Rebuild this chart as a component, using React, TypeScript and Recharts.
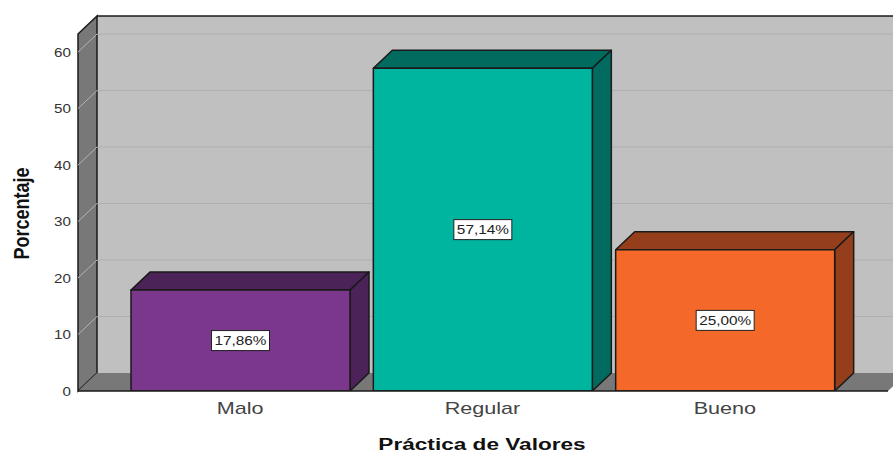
import { BarChart, Bar, Cell, XAxis, YAxis, LabelList, ReferenceArea, ReferenceLine } from "recharts";

const categories = ["Malo", "Regular", "Bueno"];
const percentages = [17.86, 57.14, 25.0];
const valueLabels = ["17,86%", "57,14%", "25,00%"];
const yTicks = [0, 10, 20, 30, 40, 50, 60];

const data = categories.map((name, i) => ({ name, value: percentages[i], label: valueLabels[i] }));

const frontColors = ["#7a378b", "#00b5a0", "#f4682a"];
const darkColors = ["#4b2359", "#006b5e", "#953e1b"];

const DX = 19;
const DY = 18;
const PAD_LEFT = 41;
const PAD_RIGHT = 42;
const EDGE = "#1a1a1a";
const FONT = "'Liberation Sans', Arial, sans-serif";

// box with top and side faces, the chart lib only gives us the front rect
function Box3D(props: any) {
  const { x, y, width, height, index } = props;
  const dark = darkColors[index];
  const r = x + width;
  const b = y + height;
  return (
    <g stroke={EDGE} strokeWidth={1.5} strokeLinejoin="round">
      <path d={`M${x},${y} L${x + DX},${y - DY} L${r + DX},${y - DY} L${r},${y} Z`} fill={dark} />
      <path d={`M${r},${y} L${r + DX},${y - DY} L${r + DX},${b - DY} L${r},${b} Z`} fill={dark} />
      <rect x={x} y={y} width={width} height={height} fill={frontColors[index]} />
    </g>
  );
}

// ReferenceArea hands us the band range, so add the axis padding back
function Room(props: any) {
  const { y, height } = props;
  const x = props.x - PAD_LEFT;
  const r = props.x + props.width + PAD_RIGHT;
  const b = y + height;
  return (
    <g>
      <rect x={x + DX} y={y - DY} width={r - x} height={height} fill="#c0c0c0" />
      <path d={`M${x},${y} L${x + DX},${y - DY} L${x + DX},${b - DY} L${x},${b} Z`} fill="#787878" stroke={EDGE} strokeWidth={1.5} />
      <path d={`M${x},${b} L${x + DX},${b - DY} L${r + DX},${b - DY} L${r},${b} Z`} fill="#787878" />
      <path d={`M${x + DX},${y - DY} L${r + DX},${y - DY}`} stroke={EDGE} strokeWidth={1.5} />
    </g>
  );
}

function GridLine(props: any) {
  const { x1, y1, x2, y2 } = props;
  return (
    <g fill="none">
      <path d={`M${x1},${y1} L${x1 + DX},${y1 - DY}`} stroke="#b4b4b4" strokeWidth={1} />
      <path d={`M${x1 + DX},${y1 - DY} L${x2 + DX},${y2 - DY}`} stroke="#afafaf" strokeWidth={1} />
    </g>
  );
}

function Stretched({ x, y, sx, children, ...rest }: any) {
  return (
    <text transform={`translate(${x},${y}) scale(${sx},1)`} fontFamily={FONT} {...rest}>
      {children}
    </text>
  );
}

function XTick({ x, y, payload }: any) {
  return (
    <Stretched x={x} y={y + 15} sx={1.27} textAnchor="middle" fontSize={17} fill="#444">
      {payload.value}
    </Stretched>
  );
}

function YTick({ x, y, payload }: any) {
  return (
    <Stretched x={x + 6} y={y + 4.5} sx={1.17} textAnchor="end" fontSize={13} fill="#333">
      {payload.value}
    </Stretched>
  );
}

function ValueBox(props: any) {
  const { x, y, width, height, value } = props;
  const cx = x + width / 2;
  const cy = y + height / 2;
  return (
    <g>
      <rect x={cx - 29} y={cy - 10} width={58} height={20} fill="#fff" stroke="#222" strokeWidth={1} />
      <Stretched x={cx} y={cy + 4.5} sx={1.18} textAnchor="middle" fontSize={13} fill="#222">
        {value}
      </Stretched>
    </g>
  );
}

function XTitle({ viewBox }: any) {
  return (
    <Stretched x={viewBox.x + viewBox.width / 2 - 1} y={450} sx={1.33} textAnchor="middle" fontSize={17} fontWeight={700} fill="#111">
      Práctica de Valores
    </Stretched>
  );
}

function YTitle({ viewBox }: any) {
  const cy = viewBox.y + viewBox.height / 2;
  return (
    <text transform={`translate(29,${cy + 1}) rotate(-90) scale(0.82,1)`} textAnchor="middle" fontFamily={FONT} fontSize={22} fontWeight={700} fill="#111">
      Porcentaje
    </text>
  );
}

export default function App() {
  return (
    <div style={{ position: "absolute", left: 0, top: 0, width: 893, height: 452, background: "#fff" }}>
      <BarChart width={893} height={452} data={data} margin={{ top: 34, right: 5, bottom: 0, left: 0 }} barSize={219}>
        <XAxis
          dataKey="name"
          height={61}
          padding={{ left: PAD_LEFT, right: PAD_RIGHT }}
          axisLine={{ stroke: EDGE, strokeWidth: 1.5 }}
          tickLine={false}
          tick={<XTick />}
          label={{ content: <XTitle /> }}
        />
        <YAxis
          width={78}
          domain={[0, 63.2]}
          ticks={yTicks}
          interval={0}
          allowDataOverflow
          axisLine={false}
          tickLine={false}
          tickMargin={7}
          tick={<YTick />}
          label={{ content: <YTitle /> }}
        />
        <ReferenceArea y1={0} y2={63.2} shape={<Room />} zIndex={100} />
        {yTicks.slice(1).map((t) => (
          <ReferenceLine key={t} y={t} shape={<GridLine />} zIndex={150} />
        ))}
        <Bar dataKey="value" shape={<Box3D />} isAnimationActive={false}>
          {data.map((d, i) => (
            <Cell key={d.name} fill={frontColors[i]} />
          ))}
          <LabelList dataKey="label" content={<ValueBox />} />
        </Bar>
      </BarChart>
    </div>
  );
}
